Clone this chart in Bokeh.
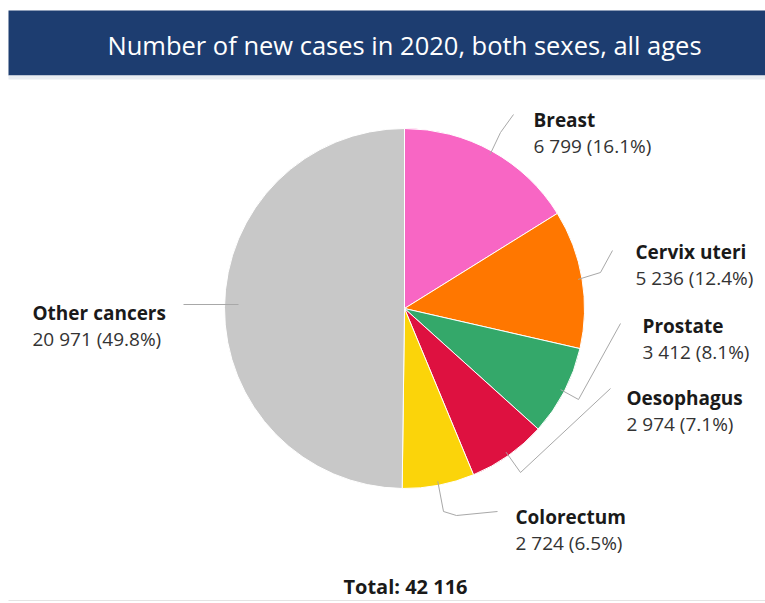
import math
from bokeh.plotting import figure
from bokeh.models import Range1d
from bokeh.core.properties import value
from bokeh.embed import file_html
from bokeh.resources import INLINE

# ---- data ----
cancers = ["Breast", "Cervix uteri", "Prostate", "Oesophagus", "Colorectum", "Other cancers"]
cases = [6799, 5236, 3412, 2974, 2724, 20971]
colors = ["#f866c4", "#ff7700", "#34a86a", "#de1140", "#fbd40a", "#c8c8c8"]
title_text = "Number of new cases in 2020, both sexes, all ages"

total = sum(cases)

# ---- layout (page-pixel coordinates; data y = -page y) ----
W, H = 765, 603
p = figure(width=W, height=H, x_range=Range1d(0, W), y_range=Range1d(-H, 0),
           output_backend="svg", toolbar_location=None, min_border=0)
p.axis.visible = False
p.grid.visible = False
p.outline_line_color = None
p.background_fill_color = "white"
p.border_fill_color = "white"

FONT = value("Open Sans")

# header band
p.quad(left=8, right=W, top=-10, bottom=-75, fill_color="#1d3d70", line_color=None)
p.quad(left=8, right=W, top=-75, bottom=-79, fill_color="#e9edf2", line_color=None)
p.text(x=[404], y=[-44], text=[title_text], text_color="white", text_font=FONT,
       text_font_size="25.5px", text_align="center", text_baseline="middle")

# pie
cx, cy, R = 404, -308, 180
starts, ends, mids = [], [], []
cum = 0.0
for v in cases:
    a0 = math.pi / 2 - cum / total * 2 * math.pi
    cum += v
    a1 = math.pi / 2 - cum / total * 2 * math.pi
    starts.append(a0)
    ends.append(a1)
    mids.append((a0 + a1) / 2)

p.wedge(x=cx, y=cy, radius=R, start_angle=starts, end_angle=ends, direction="clock",
        fill_color=colors, line_color="white", line_width=1)

# label positions (page coords of text left / line centers)
label_pos = {
    "Breast": (533, 119),
    "Cervix uteri": (635, 251),
    "Prostate": (642, 325),
    "Oesophagus": (626, 397),
    "Colorectum": (515, 516),
    "Other cancers": (32, 312),
}
# leader routes: bend points after the slice edge point (page coords)
leader_route = {
    "Breast": [(500, 132), (513, 114)],
    "Cervix uteri": [(600, 272), (612, 250)],
    "Prostate": [(578, 399), (620, 323)],
    "Oesophagus": [(520, 472), (610, 388)],
    "Colorectum": [(443, 511), (456, 515), (497, 511)],
    "Other cancers": [(183, 304)],
}

for name, v, m in zip(cancers, cases, mids):
    lx, ly = label_pos[name]
    pct = v / total * 100
    val_txt = f"{v:,}".replace(",", " ") + f" ({pct:.1f}%)"
    p.text(x=[lx], y=[-ly], text=[name], text_color="#1a1a1a", text_font=FONT,
           text_font_size="19px", text_font_style="bold", text_align="left",
           text_baseline="middle")
    p.text(x=[lx], y=[-(ly + 26)], text=[val_txt], text_color="#333333", text_font=FONT,
           text_font_size="19px", text_align="left", text_baseline="middle")
    # leader line
    r0 = R - 4
    sx, sy = cx + r0 * math.cos(m), cy + r0 * math.sin(m)
    if name == "Other cancers":
        sy = -304
        sx = cx - R + 14
    xs = [sx] + [pt[0] for pt in leader_route[name]]
    ys = [sy] + [-pt[1] for pt in leader_route[name]]
    p.line(xs, ys, line_color="#a8a8a8", line_width=1)

# total
p.text(x=[405], y=[-586], text=[f"Total: {total:,}".replace(",", " ")], text_color="#1a1a1a",
       text_font=FONT, text_font_size="20px", text_font_style="bold", text_align="center",
       text_baseline="middle")
p.line([8, W], [-600, -600], line_color="#e4e4e4", line_width=1)

open("out.html", "w").write(file_html(p, INLINE))
